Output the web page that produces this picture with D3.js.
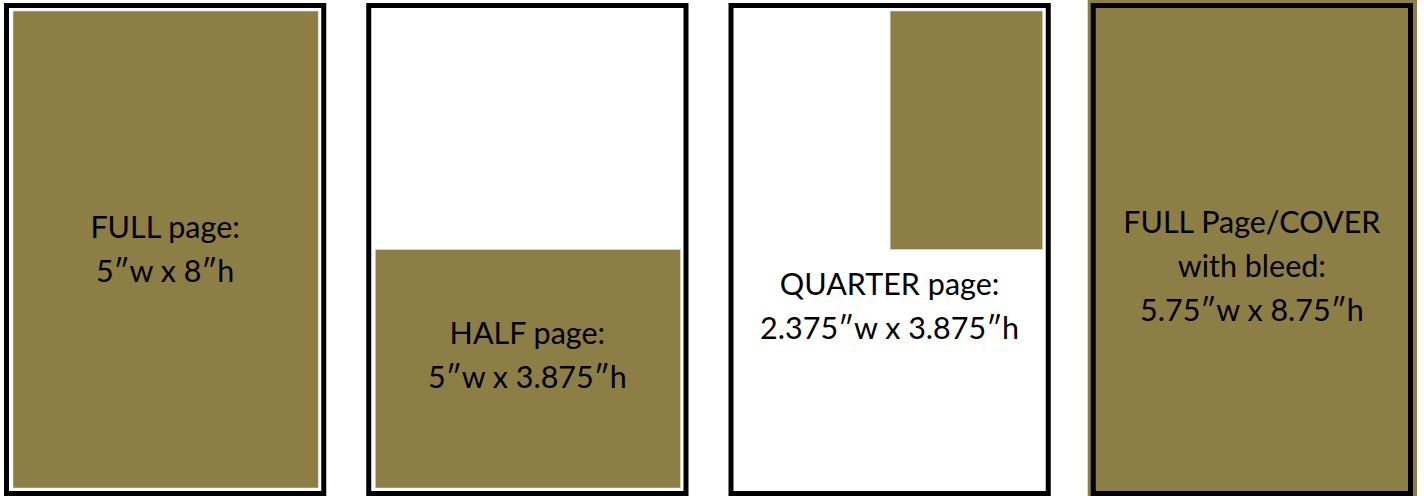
<!DOCTYPE html>
<html>
<head>
<meta charset="utf-8">
<script src="https://cdn.jsdelivr.net/npm/d3@7"></script>
<style>
  body { margin: 0; background: #fff; }
  svg { display: block; }
</style>
</head>
<body>
<script>
// page sizes shown as share of the trim area
const pages = ["full", "half", "quarter", "cover"];
const fracW = [1, 1, 0.5, 1];
const fracH = [1, 0.5, 0.5, 1];
const anchorY = ["top", "bottom", "top", "top"];
const anchorX = ["left", "left", "right", "left"];
const bleed = [false, false, false, true];
const labels = [
  ["FULL page:", "5″w x 8″h"],
  ["HALF page:", "5″w x 3.875″h"],
  ["QUARTER page:", "2.375″w x 3.875″h"],
  ["FULL Page/COVER", "with bleed:", "5.75″w x 8.75″h"]
];

const w = 1424;
const h = 496;
const olive = "#8c7e44";
const frameW = 5;
const inset = 9;
const lineGap = 44;
// where the text block sits, as share of panel height
const labelCenter = [0.5, 0.715, 0.615, 0.535];

const svg = d3.select("body").append("svg").attr("width", w).attr("height", h);

const xPanel = d3.scaleBand().domain(pages).range([4, 1413]).paddingInner(0.1104).paddingOuter(0);
const yPanel = d3.scaleLinear().domain([0, 1]).range([3, 496]);
const bw = xPanel.bandwidth();

const panels = svg.selectAll("g.panel")
  .data(pages.map((p, i) => ({ p, i })))
  .enter()
  .append("g")
  .attr("class", "panel")
  .attr("transform", (d) => "translate(" + xPanel(d.p) + ",0)");

// bleed fill outside the frame
panels.filter((d) => bleed[d.i])
  .append("rect")
  .attr("x", -3)
  .attr("y", 0)
  .attr("width", bw + 7)
  .attr("height", h)
  .attr("fill", olive);

// frame
panels.append("rect")
  .attr("x", frameW / 2)
  .attr("y", yPanel(0) + frameW / 2)
  .attr("width", bw - frameW)
  .attr("height", yPanel(1) - yPanel(0) - frameW)
  .attr("fill", (d) => (bleed[d.i] ? olive : "#fff"))
  .attr("stroke", "#000")
  .attr("stroke-width", frameW);

// ad area inside trim
panels.filter((d) => !bleed[d.i]).each(function (d) {
  const i = d.i;
  const xs = d3.scaleLinear().domain([0, 1]).range([inset, bw - inset + 1]);
  const ys = d3.scaleLinear().domain([0, 1]).range([yPanel(0) + 8, yPanel(1) - 8]);
  const x0 = anchorX[i] === "left" ? 0 : 1 - fracW[i];
  const y0 = anchorY[i] === "top" ? 0 : 1 - fracH[i];
  d3.select(this).append("rect")
    .attr("x", xs(x0))
    .attr("y", ys(y0))
    .attr("width", xs(x0 + fracW[i]) - xs(x0))
    .attr("height", ys(y0 + fracH[i]) - ys(y0))
    .attr("fill", olive)
    .attr("stroke", "#e9e3cc")
    .attr("stroke-width", 0.6);
});

// labels
panels.each(function (d) {
  const lines = labels[d.i];
  const cy = yPanel(labelCenter[d.i]);
  const top = cy - ((lines.length - 1) * lineGap) / 2;
  d3.select(this).selectAll("text")
    .data(lines)
    .enter()
    .append("text")
    .attr("x", bw / 2)
    .attr("y", (t, k) => top + k * lineGap)
    .attr("dy", "0.35em")
    .attr("text-anchor", "middle")
    .attr("font-family", "Lato, 'Open Sans', sans-serif")
    .attr("font-size", 30.5)
    .attr("fill", "#000")
    .text((t) => t);
});
</script>
</body>
</html>
